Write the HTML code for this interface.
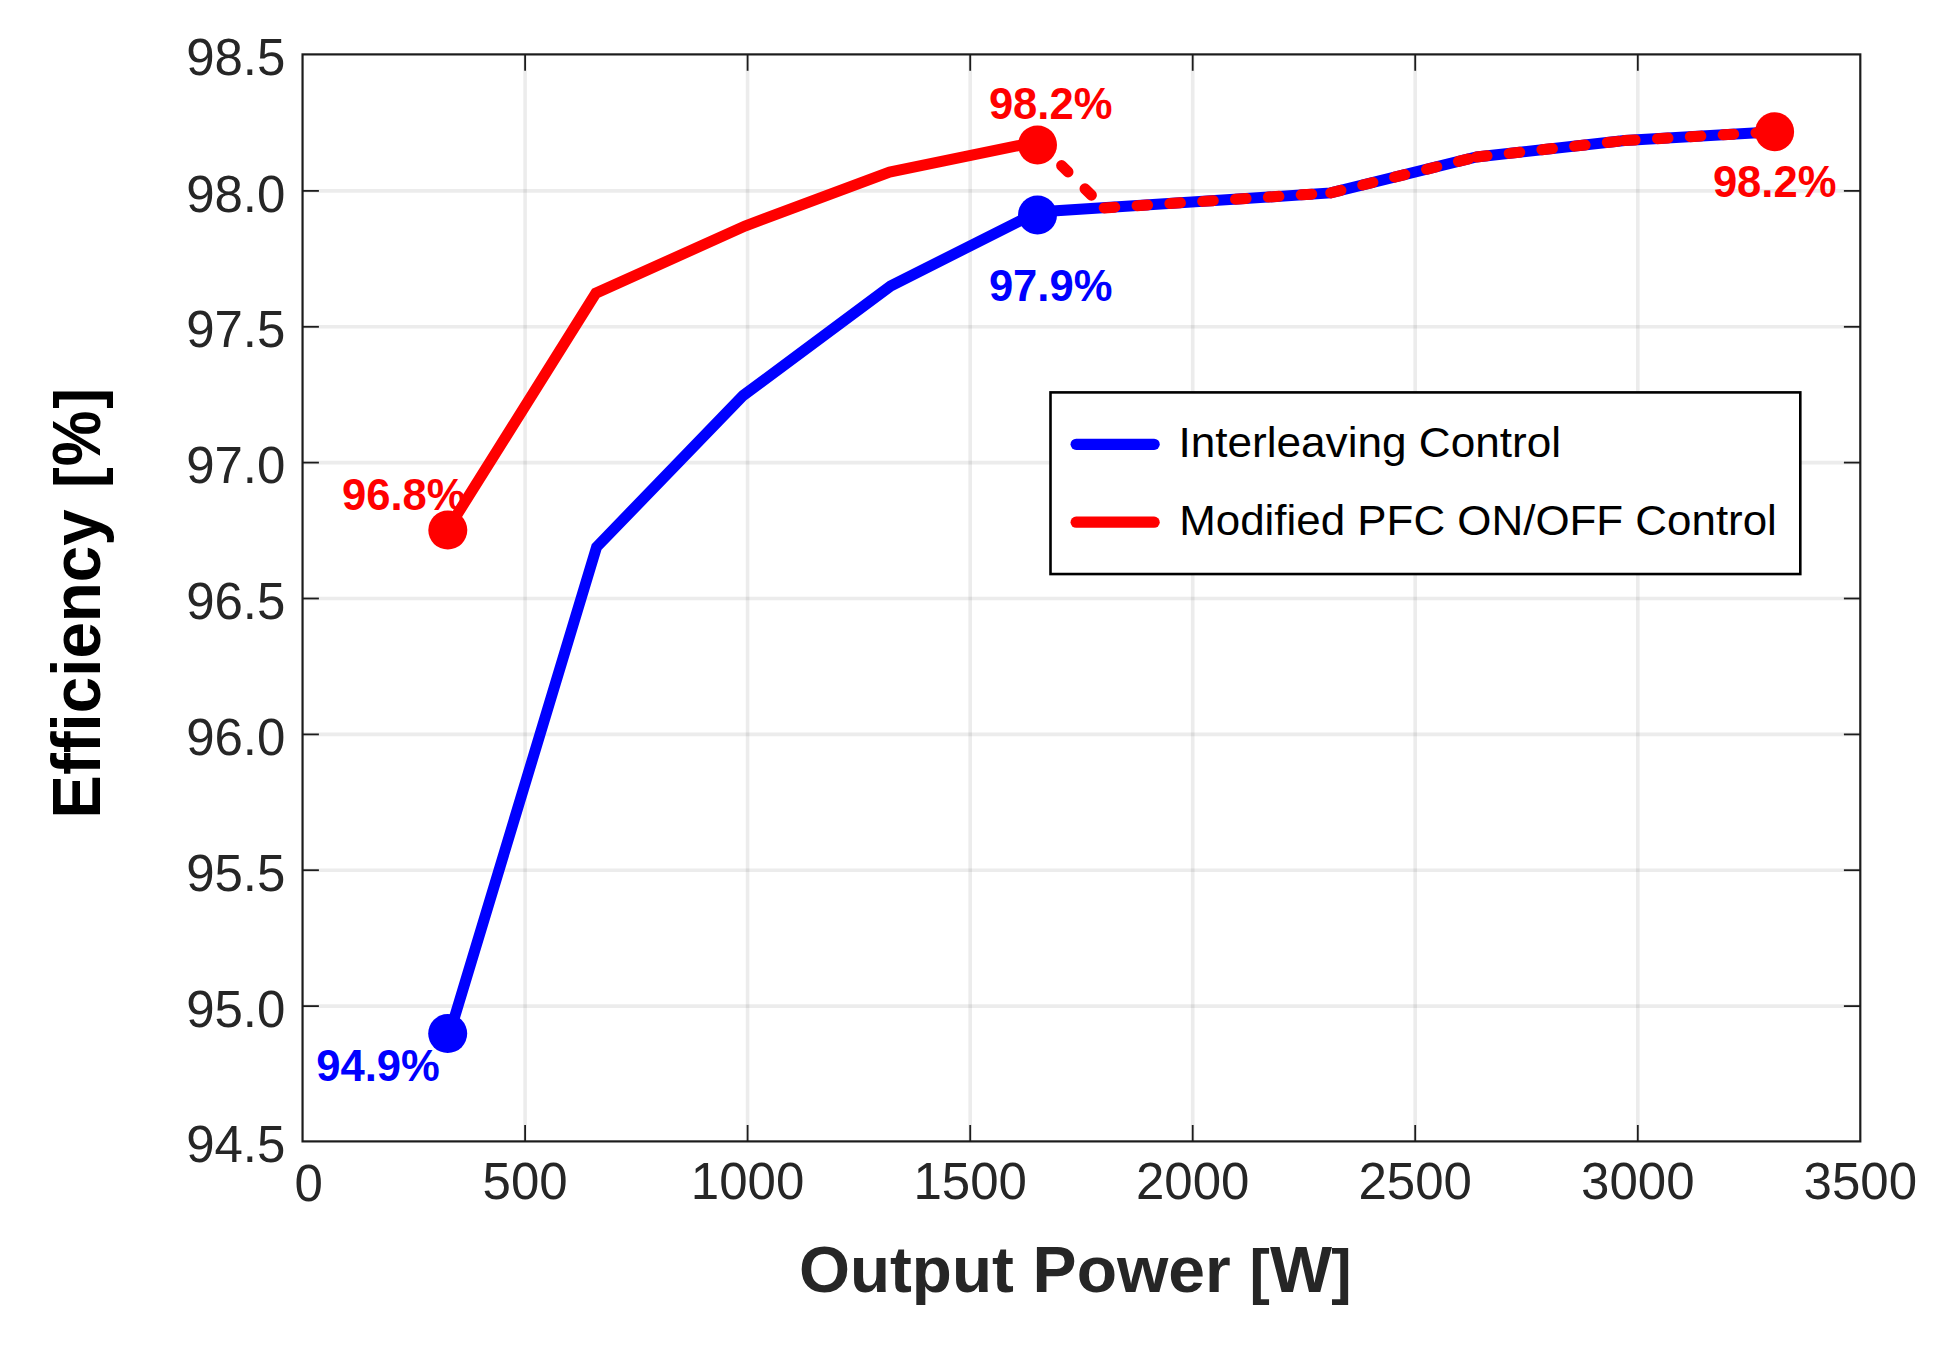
<!DOCTYPE html>
<html lang="en">
<head>
<meta charset="utf-8">
<title>Efficiency vs Output Power</title>
<style>
html,body{margin:0;padding:0;background:#fff;}
body{width:1948px;height:1345px;overflow:hidden;}
svg{display:block;}
text{font-family:"Liberation Sans",Arial,Helvetica,sans-serif;}
.tk{font-size:51px;fill:#262626;}
.dl{font-size:44px;font-weight:bold;}
.lg{font-size:43px;fill:#000;}
</style>
</head>
<body>

<svg width="1948" height="1345" viewBox="0 0 1948 1345">
<rect x="0" y="0" width="1948" height="1345" fill="#ffffff"/>
<g stroke="#262626" stroke-opacity="0.085" stroke-width="3.6" fill="none">
<line x1="525.1" y1="54.4" x2="525.1" y2="1141.4"/>
<line x1="747.6" y1="54.4" x2="747.6" y2="1141.4"/>
<line x1="970.2" y1="54.4" x2="970.2" y2="1141.4"/>
<line x1="1192.7" y1="54.4" x2="1192.7" y2="1141.4"/>
<line x1="1415.2" y1="54.4" x2="1415.2" y2="1141.4"/>
<line x1="1637.8" y1="54.4" x2="1637.8" y2="1141.4"/>
<line x1="302.6" y1="190.9" x2="1860.3" y2="190.9"/>
<line x1="302.6" y1="326.8" x2="1860.3" y2="326.8"/>
<line x1="302.6" y1="462.6" x2="1860.3" y2="462.6"/>
<line x1="302.6" y1="598.5" x2="1860.3" y2="598.5"/>
<line x1="302.6" y1="734.4" x2="1860.3" y2="734.4"/>
<line x1="302.6" y1="870.2" x2="1860.3" y2="870.2"/>
<line x1="302.6" y1="1006.1" x2="1860.3" y2="1006.1"/>
</g>
<g stroke="#1c1c1c" stroke-width="2.2" fill="none" stroke-linecap="butt">
<rect x="302.55" y="54.40" width="1557.75" height="1087.00"/>
</g>
<g stroke="#1c1c1c" stroke-width="1.8" fill="none" stroke-linecap="butt">
<line x1="525.1" y1="54.4" x2="525.1" y2="70.8"/>
<line x1="525.1" y1="1141.4" x2="525.1" y2="1125.0"/>
<line x1="747.6" y1="54.4" x2="747.6" y2="70.8"/>
<line x1="747.6" y1="1141.4" x2="747.6" y2="1125.0"/>
<line x1="970.2" y1="54.4" x2="970.2" y2="70.8"/>
<line x1="970.2" y1="1141.4" x2="970.2" y2="1125.0"/>
<line x1="1192.7" y1="54.4" x2="1192.7" y2="70.8"/>
<line x1="1192.7" y1="1141.4" x2="1192.7" y2="1125.0"/>
<line x1="1415.2" y1="54.4" x2="1415.2" y2="70.8"/>
<line x1="1415.2" y1="1141.4" x2="1415.2" y2="1125.0"/>
<line x1="1637.8" y1="54.4" x2="1637.8" y2="70.8"/>
<line x1="1637.8" y1="1141.4" x2="1637.8" y2="1125.0"/>
<line x1="302.6" y1="190.9" x2="318.9" y2="190.9"/>
<line x1="1860.3" y1="190.9" x2="1843.9" y2="190.9"/>
<line x1="302.6" y1="326.8" x2="318.9" y2="326.8"/>
<line x1="1860.3" y1="326.8" x2="1843.9" y2="326.8"/>
<line x1="302.6" y1="462.6" x2="318.9" y2="462.6"/>
<line x1="1860.3" y1="462.6" x2="1843.9" y2="462.6"/>
<line x1="302.6" y1="598.5" x2="318.9" y2="598.5"/>
<line x1="1860.3" y1="598.5" x2="1843.9" y2="598.5"/>
<line x1="302.6" y1="734.4" x2="318.9" y2="734.4"/>
<line x1="1860.3" y1="734.4" x2="1843.9" y2="734.4"/>
<line x1="302.6" y1="870.2" x2="318.9" y2="870.2"/>
<line x1="1860.3" y1="870.2" x2="1843.9" y2="870.2"/>
<line x1="302.6" y1="1006.1" x2="318.9" y2="1006.1"/>
<line x1="1860.3" y1="1006.1" x2="1843.9" y2="1006.1"/>
</g>
<g class="tk" text-anchor="end">
<text x="285.4" y="75.0">98.5</text>
<text x="285.4" y="211.5">98.0</text>
<text x="285.4" y="347.4">97.5</text>
<text x="285.4" y="483.2">97.0</text>
<text x="285.4" y="619.1">96.5</text>
<text x="285.4" y="755.0">96.0</text>
<text x="285.4" y="890.9">95.5</text>
<text x="285.4" y="1026.7">95.0</text>
<text x="285.4" y="1162.0">94.5</text>
</g>
<g class="tk" text-anchor="middle">
<text x="308.6" y="1201.1">0</text>
<text x="525.1" y="1199.3">500</text>
<text x="747.6" y="1199.3">1000</text>
<text x="970.2" y="1199.3">1500</text>
<text x="1192.7" y="1199.3">2000</text>
<text x="1415.2" y="1199.3">2500</text>
<text x="1637.8" y="1199.3">3000</text>
<text x="1860.3" y="1199.3">3500</text>
</g>
<text y="1291.7" font-size="64.5" font-weight="bold" fill="#262626" lengthAdjust="spacingAndGlyphs"><tspan x="799.0" textLength="214.8" lengthAdjust="spacingAndGlyphs">Output</tspan> <tspan x="1032.6" textLength="198.2" lengthAdjust="spacingAndGlyphs">Power</tspan> <tspan x="1249.5" font-size="61">[</tspan><tspan x="1270.0" textLength="62" lengthAdjust="spacingAndGlyphs">W</tspan><tspan x="1331.3" font-size="61">]</tspan></text>
<text transform="translate(100.3 818.7) rotate(-90) scale(1 1.041)" y="0" font-size="65.5" font-weight="bold" fill="#000"><tspan x="0">Efficiency</tspan> <tspan x="330.8" font-size="62.3">[</tspan><tspan x="352.5" textLength="55.7" lengthAdjust="spacingAndGlyphs">%</tspan><tspan x="409.85" font-size="62.3">]</tspan></text>
<g class="dl">
<text x="342" y="509.8" fill="#ff0000" textLength="123.5" lengthAdjust="spacingAndGlyphs">96.8%</text>
<text x="316.3" y="1081.3" fill="#0000ff" textLength="123.5" lengthAdjust="spacingAndGlyphs">94.9%</text>
<text x="988.9" y="118.9" fill="#ff0000" textLength="123.5" lengthAdjust="spacingAndGlyphs">98.2%</text>
<text x="988.9" y="300.6" fill="#0000ff" textLength="123.5" lengthAdjust="spacingAndGlyphs">97.9%</text>
<text x="1712.9" y="197.1" fill="#ff0000" textLength="123.5" lengthAdjust="spacingAndGlyphs">98.2%</text>
</g>
<polyline points="449.6,1033.6 596.6,547.0 743.2,395.5 890.6,286.0 1037.5,212.0 1184.0,202.6 1330.7,192.9 1476.5,157.0 1624.6,140.6 1774.6,131.8" fill="none" stroke="#0000ff" stroke-width="11" stroke-linejoin="miter" stroke-linecap="butt"/>
<polyline points="447.3,530.1 595.9,293.2 745.0,226.0 889.6,172.1 1037.5,141.6" fill="none" stroke="#ff0000" stroke-width="11" stroke-linejoin="miter" stroke-linecap="butt"/>
<polyline points="1037.5,141.6 1104.2,207.9" fill="none" stroke="#ff0000" stroke-width="11" stroke-linecap="round" stroke-dasharray="9 24" stroke-dashoffset="-1"/>
<line x1="1104.2" y1="207.9" x2="1330.7" y2="192.9" stroke="#ff0000" stroke-width="11" stroke-linecap="round" stroke-dasharray="10.6 22.3"/>
<line x1="1330.7" y1="192.9" x2="1476.5" y2="157.0" stroke="#ff0000" stroke-width="11" stroke-linecap="round" stroke-dasharray="10.6 22.3"/>
<line x1="1476.5" y1="157.0" x2="1624.6" y2="140.6" stroke="#ff0000" stroke-width="11" stroke-linecap="round" stroke-dasharray="10.6 22.3"/>
<line x1="1624.6" y1="140.6" x2="1774.6" y2="131.8" stroke="#ff0000" stroke-width="11" stroke-linecap="round" stroke-dasharray="10.6 22.3"/>
<circle cx="447.7" cy="1033.6" r="19.5" fill="#0000ff"/>
<circle cx="1037.5" cy="215.0" r="19.5" fill="#0000ff"/>
<circle cx="447.8" cy="530.1" r="19.5" fill="#ff0000"/>
<circle cx="1037.5" cy="144.9" r="19.5" fill="#ff0000"/>
<circle cx="1774.6" cy="131.8" r="19.5" fill="#ff0000"/>
<rect x="1050.5" y="392.4" width="749.8" height="181.65" fill="#ffffff" stroke="#000000" stroke-width="2.6"/>
<line x1="1076.2" y1="444.3" x2="1154.1" y2="444.3" stroke="#0000ff" stroke-width="11.3" stroke-linecap="round"/>
<line x1="1076.2" y1="522.2" x2="1154.1" y2="522.2" stroke="#ff0000" stroke-width="11.3" stroke-linecap="round"/>
<text class="lg" x="1178.4" y="457.3" textLength="382.7" lengthAdjust="spacingAndGlyphs">Interleaving Control</text>
<text class="lg" x="1179.2" y="535.3" textLength="597.7" lengthAdjust="spacingAndGlyphs">Modified PFC ON/OFF Control</text>
</svg>
</body>
</html>
